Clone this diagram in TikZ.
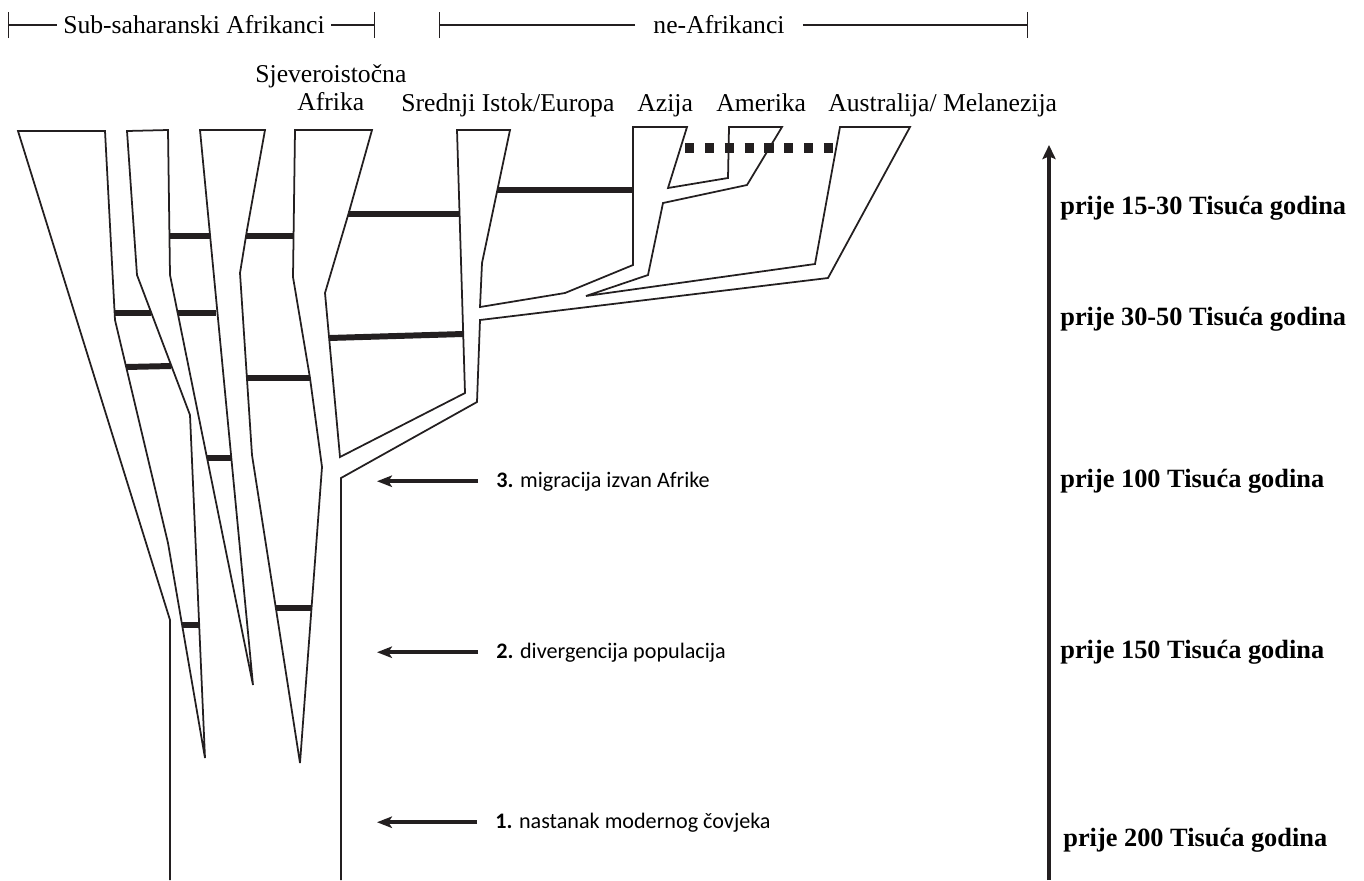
\documentclass[tikz,border=0pt]{standalone}
\usepackage{fontspec}
\setmainfont{Liberation Serif}
\newfontfamily\evfont{Carlito}
\usetikzlibrary{arrows.meta,positioning}
\definecolor{ink}{HTML}{231F20}
\tikzset{
    outline/.style={draw=ink, line width=1pt, line join=miter, miter limit=6},
    flowbar/.style={draw=ink, line width=3.4pt},
    flowdots/.style={draw=ink, line width=5.2pt, dash pattern=on 5.2pt off 6.1pt},
    evarrow/.style={-{Stealth[length=8.5pt, width=6.5pt, inset=2pt]}, draw=ink, line width=2pt},
    timeaxis/.style={-{Stealth[length=8pt, width=7.5pt, inset=1.5pt]}, draw=ink, line width=2.6pt},
    bracket/.style={-{Bar[width=15pt]}, draw=ink, line width=0.7pt},
    grouplbl/.style={font=\fontsize{14.6}{16}\selectfont, inner ysep=0pt},
    poplbl/.style={font=\fontsize{14.6}{16}\selectfont, inner sep=0pt, anchor=base west},
    timelbl/.style={font=\bfseries\fontsize{15}{17}\selectfont, inner sep=0pt, anchor=base west},
    evlbl/.style={font=\evfont\fontsize{12.6}{14}\selectfont, inner ysep=0pt, inner xsep=10.2pt, anchor=base west}
}

\begin{document}
\begin{tikzpicture}[x=0.02cm, y=-0.02cm]
    \useasboundingbox (0,0) rectangle (1364,880);

    % group brackets
    \coordinate (sslft) at (8,25);
    \coordinate (ssrgt) at (375,25);
    \node[grouplbl, inner xsep=3.4pt] (ssa) at (194,25) {Sub-saharanski Afrikanci};
    \draw[bracket] (ssa.west) -- (ssa.west -| sslft);
    \draw[bracket] (ssa.east) -- (ssa.east -| ssrgt);

    \coordinate (nelft) at (439,25);
    \coordinate (nergt) at (1028,25);
    \node[grouplbl, inner xsep=10.2pt] (nea) at (719,25) {ne-Afrikanci};
    \draw[bracket] (nea.west) -- (nea.west -| nelft);
    \draw[bracket] (nea.east) -- (nea.east -| nergt);

    % population labels
    \node[poplbl] (pop1) at (255,82) {Sjeveroistočna};
    \node[poplbl] (pop2) at (297,110) {Afrika};
    \node[poplbl] (pop3) at (401,111) {Srednji Istok/Europa};
    \node[poplbl] (pop4) at (637,111) {Azija};
    \node[poplbl] (pop5) at (716,111) {Amerika};
    \node[poplbl] (pop6) at (828,111) {Australija/ Melanezija};

    % tree outline
    \draw[outline] (170,880) -- (170,620) -- (18,131) -- (105,131) -- (115,320)
        -- (168,543) -- (205,758) -- (190,415) -- (137,275) -- (127,131)
        -- (168,130) -- (170,275) -- (253,685) -- (200,130) -- (265,130)
        -- (247,230) -- (240,273) -- (252,455) -- (300,763) -- (322,467)
        -- (310,378) -- (293,277) -- (295,130) -- (372,130) -- (349,212)
        -- (325,293) -- (340,457) -- (465,393) -- (457,130) -- (510,130)
        -- (482,263) -- (480,307) -- (565,293) -- (633,265) -- (633,127)
        -- (687,127) -- (668,188) -- (728,178) -- (729,127) -- (782,127)
        -- (747,185) -- (663,203) -- (648,275) -- (586,296) -- (815,264)
        -- (840,127) -- (910,127) -- (828,278) -- (480,320) -- (477,402)
        -- (341,478) -- (341,880);

    % gene flow
    \draw[flowbar] (115,313) -- (151,313);
    \draw[flowbar] (126,367) -- (171,366);
    \draw[flowbar] (182,625) -- (199,625);
    \draw[flowbar] (170,236) -- (210,236);
    \draw[flowbar] (178,313) -- (216,313);
    \draw[flowbar] (207,458) -- (231,458);
    \draw[flowbar] (246,236) -- (294,236);
    \draw[flowbar] (247,378) -- (310,378);
    \draw[flowbar] (276,608) -- (311,608);
    \draw[flowbar] (348,214) -- (459,214);
    \draw[flowbar] (329,338) -- (463,334);
    \draw[flowbar] (497,190) -- (633,190);
    \draw[flowdots] (685,148) -- (836,148);

    % events
    \node[evlbl] (ev3) at (478,487) {\textbf{3.} migracija izvan Afrike};
    \node[evlbl] (ev2) at (478,658) {\textbf{2.} divergencija populacija};
    \node[evlbl] (ev1) at (477,828) {\textbf{1.} nastanak modernog čovjeka};
    \coordinate (ev3tip) at (377,482);
    \coordinate (ev2tip) at (377,653);
    \coordinate (ev1tip) at (377,823);
    \draw[evarrow] (ev3.west) -- (ev3.west -| ev3tip);
    \draw[evarrow] (ev2.west) -- (ev2.west -| ev2tip);
    \draw[evarrow] (ev1.west) -- (ev1.west -| ev1tip);

    % time axis
    \coordinate (tbot) at (1049,880);
    \coordinate (ttop) at (1049,145);
    \draw[timeaxis] (tbot) -- (ttop);
    \node[timelbl] (t5) at (1060,214) {prije 15-30 Tisuća godina};
    \node[timelbl] (t4) at (1060,325) {prije 30-50 Tisuća godina};
    \node[timelbl] (t3) at (1060,487) {prije 100 Tisuća godina};
    \node[timelbl] (t2) at (1060,658) {prije 150 Tisuća godina};
    \node[timelbl] (t1) at (1063,846) {prije 200 Tisuća godina};
\end{tikzpicture}
\end{document}
